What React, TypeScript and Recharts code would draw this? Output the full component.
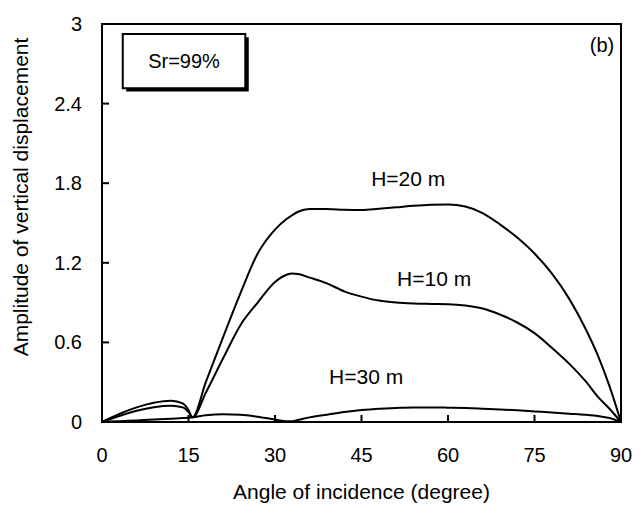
import React from 'react';
import { LineChart, Line, XAxis, YAxis, ReferenceArea, ReferenceDot } from 'recharts';

const angles = [0, 3, 6, 9, 12, 14, 15, 15.7, 18, 21, 24, 27, 30, 32, 33, 34, 36, 39, 42, 45, 48, 51, 54, 57, 60, 63, 66, 69, 72, 75, 78, 81, 84, 86, 88, 90];
const h10 = [0, 0.045, 0.085, 0.112, 0.123, 0.11, 0.075, 0.035, 0.22, 0.48, 0.73, 0.9, 1.055, 1.11, 1.12, 1.115, 1.088, 1.045, 0.985, 0.945, 0.915, 0.9, 0.893, 0.89, 0.888, 0.878, 0.855, 0.81, 0.75, 0.67, 0.56, 0.44, 0.3, 0.19, 0.1, 0];
const h20 = [0, 0.06, 0.11, 0.145, 0.16, 0.14, 0.09, 0.035, 0.3, 0.64, 0.97, 1.27, 1.45, 1.53, 1.56, 1.585, 1.605, 1.605, 1.6, 1.598, 1.607, 1.618, 1.63, 1.638, 1.64, 1.625, 1.575, 1.49, 1.39, 1.27, 1.12, 0.93, 0.69, 0.5, 0.27, 0];
const h30 = [0, 0.006, 0.012, 0.018, 0.025, 0.03, 0.032, 0.035, 0.05, 0.058, 0.055, 0.04, 0.018, 0.005, 0.006, 0.015, 0.035, 0.055, 0.075, 0.09, 0.1, 0.106, 0.11, 0.11, 0.108, 0.105, 0.1, 0.095, 0.088, 0.08, 0.072, 0.063, 0.054, 0.045, 0.03, 0];

const xTicks = [0, 15, 30, 45, 60, 75, 90];
const yTicks = [0, 0.6, 1.2, 1.8, 2.4, 3];

const seriesLabels = ['H=10 m', 'H=20 m', 'H=30 m'];
const boxText = 'Sr=99%';
const panelText = '(b)';
const xTitle = 'Angle of incidence (degree)';
const yTitle = 'Amplitude of vertical displacement';

const data = angles.map((a, i) => ({ angle: a, h10: h10[i], h20: h20[i], h30: h30[i] }));

const FONT = '"Liberation Sans", Arial, sans-serif';

const YTick = (props: any) => {
  const { x, y, payload } = props;
  return (
    <g>
      <line x1={x} y1={y} x2={x + 7} y2={y} stroke="#000" strokeWidth={2} />
      <text x={x - 20} y={y + 7} textAnchor="end" fontSize={20} fontFamily={FONT} fill="#000">
        {String(payload.value)}
      </text>
    </g>
  );
};

const XTick = (props: any) => {
  const { x, y, payload } = props;
  return (
    <g>
      <line x1={x} y1={y} x2={x} y2={y - 7} stroke="#000" strokeWidth={2} />
      <text x={x} y={y + 40} textAnchor="middle" fontSize={20} fontFamily={FONT} fill="#000">
        {String(payload.value)}
      </text>
    </g>
  );
};

const XTitle = (props: any) => {
  const vb = props.viewBox || {};
  return (
    <text x={vb.x + vb.width / 2} y={vb.y + 77} textAnchor="middle" fontSize={21} fontFamily={FONT} fill="#000">
      {xTitle}
    </text>
  );
};

const YTitle = (props: any) => {
  const vb = props.viewBox || {};
  const cx = 20;
  const cy = vb.y + vb.height / 2 - 26;
  return (
    <text x={cx} y={cy} transform={`rotate(-90 ${cx} ${cy})`} textAnchor="middle" fontSize={21} fontFamily={FONT} fill="#000">
      {yTitle}
    </text>
  );
};

const lblStyle = { fontSize: 20, fontFamily: FONT, fill: '#000' };
const hStyle = { fontSize: 21, fontFamily: FONT, fill: '#000' };

export default function App() {
  return (
    <LineChart width={636} height={497} data={data} margin={{ top: 16, right: 23, left: 0, bottom: 0 }}>
      <XAxis
        dataKey="angle"
        type="number"
        domain={[0, 90]}
        ticks={xTicks}
        axisLine={false}
        tickLine={false}
        tickSize={0}
        tickMargin={0}
        tick={<XTick />}
        height={83}
        label={<XTitle />}
      />
      <YAxis
        type="number"
        domain={[0, 3]}
        ticks={yTicks}
        axisLine={false}
        tickLine={false}
        tickSize={0}
        tickMargin={0}
        tick={<YTick />}
        width={94}
        label={<YTitle />}
      />
      <ReferenceArea x1={4.2} x2={25.45} y1={2.492} y2={2.901} fill="#000" stroke="none" fillOpacity={1} />
      <ReferenceArea
        x1={3.6}
        x2={24.85}
        y1={2.515}
        y2={2.924}
        fill="#fff"
        fillOpacity={1}
        stroke="#000"
        strokeWidth={2}
        label={{ value: boxText, position: 'center', ...lblStyle }}
      />
      <Line type="monotone" dataKey="h10" stroke="#000" strokeWidth={2} dot={false} isAnimationActive={false} />
      <Line type="monotone" dataKey="h20" stroke="#000" strokeWidth={2} dot={false} isAnimationActive={false} />
      <Line type="monotone" dataKey="h30" stroke="#000" strokeWidth={2} dot={false} isAnimationActive={false} />
      <ReferenceDot x={57.6} y={1.082} r={1} fill="none" stroke="none" label={{ value: seriesLabels[0], position: 'center', ...hStyle }} />
      <ReferenceDot x={53.1} y={1.835} r={1} fill="none" stroke="none" label={{ value: seriesLabels[1], position: 'center', ...hStyle }} />
      <ReferenceDot x={45.8} y={0.341} r={1} fill="none" stroke="none" label={{ value: seriesLabels[2], position: 'center', ...hStyle }} />
      <ReferenceDot x={86.7} y={2.84} r={1} fill="none" stroke="none" label={{ value: panelText, position: 'center', ...lblStyle }} />
      <ReferenceArea x1={0} x2={90} y1={0} y2={3} fill="none" stroke="#000" strokeWidth={2} />
    </LineChart>
  );
}
